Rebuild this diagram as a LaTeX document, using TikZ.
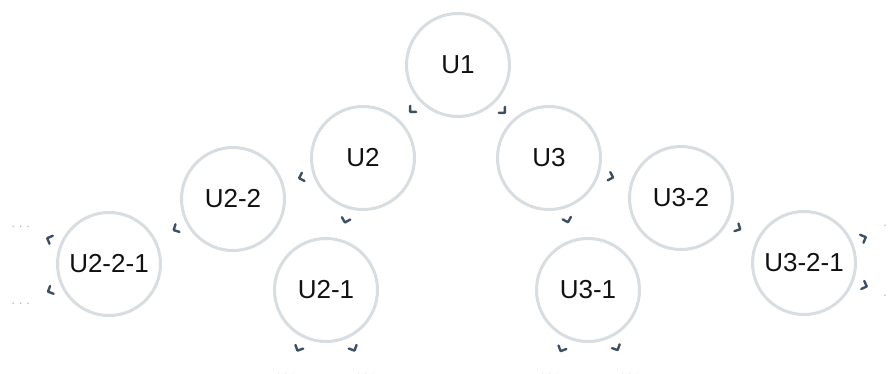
\documentclass[tikz,border=0pt]{standalone}
\usepackage{fontspec}
\setmainfont{Liberation Sans}
\usetikzlibrary{decorations.markings}
\definecolor{ring}{HTML}{D8DDE2}
\definecolor{tipc}{HTML}{3C5064}
\definecolor{dotc}{HTML}{A8A8A8}
\definecolor{ink}{HTML}{111111}
\begin{document}
\begin{tikzpicture}[x=1pt,y=-1pt,
  unit/.style={circle, draw=ring, line width=3pt, fill=white, minimum size=103pt, inner sep=0pt,
    font=\fontsize{26}{30}\selectfont, text=ink},
  more/.style={inner sep=0pt, font=\fontsize{12}{12}\selectfont, text=dotc},
  link/.style={postaction={decorate}, decoration={markings, mark=at position 14pt with {
    \draw[tipc, line width=2.4pt, line cap=round, line join=round] (-4.3pt,4.3pt) -- (0pt,0pt) -- (-4.3pt,-4.3pt);}}}
]
\useasboundingbox (0,0) rectangle (891,374);
\node[unit] (U1) at (458,65) {U1};
\node[unit] (U2) at (363,158) {U2};
\node[unit] (U3) at (549,158) {U3};
\node[unit] (U22) at (233,199) {U2-2};
\node[unit] (U32) at (681,198) {U3-2};
\node[unit] (U21) at (326,290) {U2-1};
\node[unit] (U31) at (588,290) {U3-1};
\node[unit] (U221) at (109,264) {U2-2-1};
\node[unit] (U321) at (804,263) {U3-2-1};
\node[more] (L1) at (20.7,227) {.\kern4pt.\kern4pt.};
\node[more] (L2) at (20.7,304) {.\kern4pt.\kern4pt.};
\node[more] (R1) at (892.3,226) {.\kern4pt.\kern4pt.};
\node[more] (R2) at (892.3,296) {.\kern4pt.\kern4pt.};
\node[more] (B1) at (286,375) {.\kern4pt.\kern4pt.};
\node[more] (B2) at (366,375) {.\kern4pt.\kern4pt.};
\node[more] (B3) at (550,375) {.\kern4pt.\kern4pt.};
\node[more] (B4) at (630,375) {.\kern4pt.\kern4pt.};
\path[link] (U1) -- (U2);
\path[link] (U1) -- (U3);
\path[link] (U2) -- (U22);
\path[link] (U2) -- (U21);
\path[link] (U3) -- (U32);
\path[link] (U3) -- (U31);
\path[link] (U22) -- (U221);
\path[link] (U32) -- (U321);
\path[link] (U221) -- (L1);
\path[link] (U221) -- (L2);
\path[link] (U321) -- (R1);
\path[link] (U321) -- (R2);
\path[link] (U21) -- (B1);
\path[link] (U21) -- (B2);
\path[link] (U31) -- (B3);
\path[link] (U31) -- (B4);
\end{tikzpicture}
\end{document}
